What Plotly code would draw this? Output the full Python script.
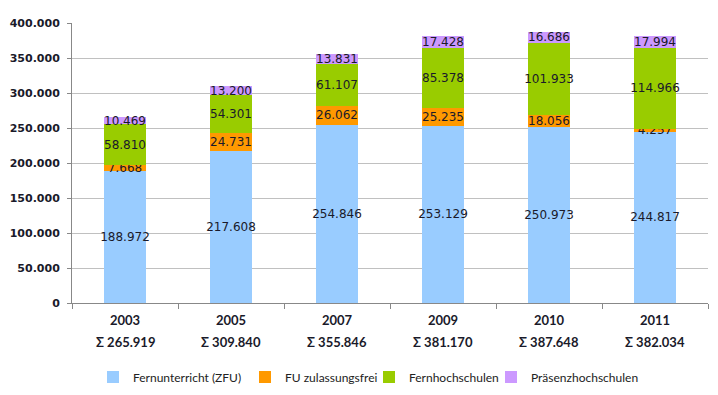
import plotly.graph_objects as go

years = ["2003", "2005", "2007", "2009", "2010", "2011"]
totals = ["265.919", "309.840", "355.846", "381.170", "387.648", "382.034"]
zfu = [188972, 217608, 254846, 253129, 250973, 244817]
fu_frei = [7668, 24731, 26062, 25235, 18056, 4257]
fernhs = [58810, 54301, 61107, 85378, 101933, 114966]
praesenz = [10469, 13200, 13831, 17428, 16686, 17994]

series_names = ["Fernunterricht (ZFU)", "FU zulassungsfrei", "Fernhochschulen", "Präsenzhochschulen"]
series_vals = [zfu, fu_frei, fernhs, praesenz]
colors = ["#99CCFF", "#FF9900", "#99CC00", "#CC99FF"]

L, R, T, B, W, H = 72, 10, 23, 92, 718, 395
plot_w = W - L - R
plot_h = H - T - B
legend_text_px = [133, 285, 409, 531]
legend_ids = ["legend", "legend2", "legend3", "legend4"]

fig = go.Figure()
for name, vals, col, lid in zip(series_names, series_vals, colors, legend_ids):
    fig.add_trace(go.Bar(
        x=years, y=vals, name=name,
        marker=dict(color=col, line=dict(width=0)),
        texttemplate="%{y:,d}",
        textposition="inside",
        insidetextanchor="middle",
        constraintext="none",
        textangle=0,
        textfont=dict(family="DejaVu Sans", size=12, color="#1a1a2a"),
        hoverinfo="skip",
        legend=lid,
    ))

# Sum line under each year label (category index positions on the x axis)
for i, tot in enumerate(totals):
    fig.add_annotation(
        x=i, xref="x", y=(H - B - 342) / plot_h, yref="paper",
        text=f"Σ {tot}", showarrow=False, yanchor="middle", xanchor="center",
        font=dict(family="Lato", size=13, color="#1a1a2a", weight="bold"),
    )

leg_y = (H - B - 377) / plot_h
legends = {}
for lid, tx in zip(legend_ids, legend_text_px):
    legends[lid] = dict(
        orientation="h", x=(tx - 40 - L) / plot_w, xanchor="left",
        y=leg_y, yanchor="middle",
        font=dict(family="Lato", size=12, color="#222"),
        itemwidth=30, bgcolor="rgba(0,0,0,0)",
    )

fig.update_layout(
    barmode="stack",
    bargap=0.60,
    separators=",.",
    width=W, height=H,
    margin=dict(l=L, r=R, t=T, b=B, autoexpand=False),
    plot_bgcolor="white",
    paper_bgcolor="white",
    showlegend=True,
    xaxis=dict(
        type="category",
        range=[-0.5, len(years) - 0.5],
        tickvals=years, ticktext=years,
        tickfont=dict(family="Lato", size=13, color="#1a1a2a", weight="bold"),
        showline=True, linecolor="#888888", linewidth=1,
        ticks="outside", ticklen=5, tickcolor="#888888",
        tickson="boundaries",
        showgrid=False, automargin=False,
        ticklabelstandoff=5,
    ),
    yaxis=dict(
        range=[0, 400000], dtick=50000, tickformat=",d",
        tickfont=dict(family="DejaVu Sans", size=11, color="#1a1a2a", weight="bold"),
        showline=True, linecolor="#888888", linewidth=1,
        ticks="outside", ticklen=4, tickcolor="#888888",
        showgrid=True, gridcolor="#C0C0C0", gridwidth=1,
        zeroline=False, automargin=False,
        ticklabelstandoff=5,
    ),
    **legends,
)

fig.write_html("out.html", config={"displayModeBar": False},
               post_script="document.body.style.margin='0';")
